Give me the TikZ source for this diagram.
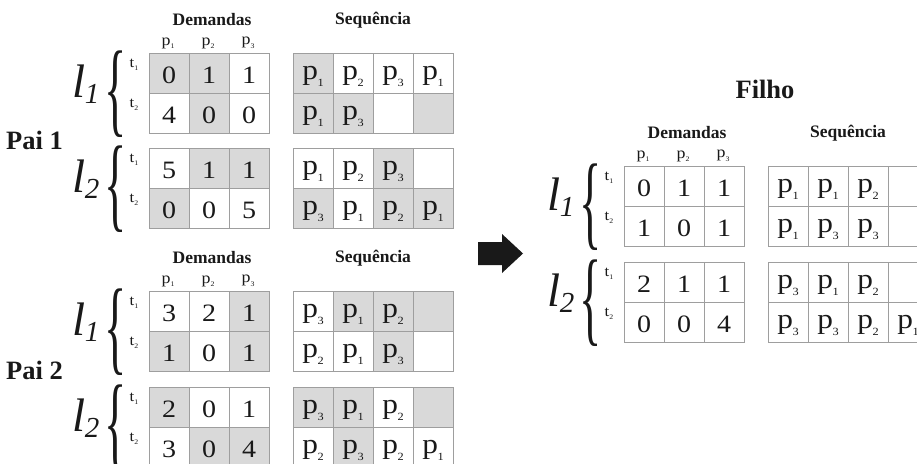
\documentclass[tikz,border=0pt]{standalone}
\usepackage{fontspec}
\setmainfont{Liberation Serif}
\newfontfamily\cellfont[FakeStretch=1.12]{Liberation Serif}

\newcommand\fsz[1]{\fontsize{#1}{#1}\selectfont}
% product symbols with a low subscript
\newcommand\pp[1]{p\kern-0.5pt\raisebox{-7pt}{\fsz{11}#1}}
\newcommand\hp[1]{p\raisebox{-3.5pt}{\fsz{7}#1}}
\newcommand\tsub[1]{t\raisebox{-3pt}{\fsz{7}#1}}
% line label l_k
\newcommand\llab[1]{{\fsz{47}\itshape l}\kern-0.5pt\raisebox{-6pt}{\fsz{29}\itshape #1}}
% tall curly brace
\newcommand\tallbrace{\scalebox{1.05}[2.38]{\fsz{44}\{}}

\colorlet{shade}{black!15}
\colorlet{gridline}{black!38}
\colorlet{ink}{black!90}

\tikzset{
  dcell/.style={draw=gridline, line width=0.9pt, minimum width=40pt,
    minimum height=40pt, inner sep=0pt, outer sep=0pt,
    text height=20.5pt, text depth=0pt, text=ink, font={\cellfont\fsz{25}}},
  scell/.style={dcell, text height=16pt, text depth=4pt, font={\cellfont\fsz{28}}},
  hd/.style={inner sep=0pt, text=ink, font={\bfseries\fsz{17.5}}},
  title/.style={inner sep=0pt, text=ink, font={\bfseries\fsz{26.5}}},
  collab/.style={inner sep=0pt, text=ink, font={\cellfont\fsz{16}}},
  tlab/.style={inner sep=0pt, text=ink, font={\cellfont\fsz{15}}},
  bracenode/.style={inner sep=0pt, text=ink},
  linelab/.style={inner sep=0pt, anchor=base west, text=ink},
}

% one row of cells: name, left x, top y, list of fill/content
\newcommand\drow[4]{%
  \foreach \f/\v [count=\i] in {#4}
    \node[dcell, fill=\f] (#1-\i) at ({#2+40*\i-20},{#3+20}) {\v};}
\newcommand\srow[4]{%
  \foreach \f/\v [count=\i] in {#4}
    \node[scell, fill=\f] (#1-\i) at ({#2+40*\i-20},{#3+20}) {\v};}

% one line block: prefix, demand x, sequence x, top y, line index,
% demand rows 1-2, sequence rows 1-2
\newcommand\lblock[9]{%
  \drow{#1d1}{#2}{#4}{#6}
  \drow{#1d2}{#2}{#4+40}{#7}
  \srow{#1s1}{#3}{#4}{#8}
  \srow{#1s2}{#3}{#4+40}{#9}
  \node[tlab] (#1t1) at ({#2-15},{#4+12}) {\tsub1};
  \node[tlab] (#1t2) at ({#2-15},{#4+52}) {\tsub2};
  \node[bracenode] (#1br) at ({#2-33},{#4+41}) {\tallbrace};
  \node[linelab] (#1l) at ({#2-77},{#4+44}) {\llab{#5}};
}

% column headings above a demand table and a sequence table
\newcommand\heads[4]{%
  \node[hd] (#1dem) at ({#2+63},{#4-33}) {Demandas};
  \node[hd] (#1seq) at ({#3+80},{#4-33}) {Sequência};
  \foreach \k in {1,2,3}
    \node[collab] (#1c\k) at ({#2+40*\k-21},{#4-10}) {\hp\k};
}

\begin{document}
\begin{tikzpicture}[x=1pt, y=-1pt]
  \clip (0,0) rectangle (917,463);
  \fill[white] (0,0) rectangle (917,463);

  % ---------- Pai 1 ----------
  \heads{a}{149}{293}{53}
  \lblock{a1}{149}{293}{53}{1}
    {shade/0, shade/1, white/1}
    {white/4, shade/0, white/0}
    {shade/\pp1, white/\pp2, white/\pp3, white/\pp1}
    {shade/\pp1, shade/\pp3, white/{}, shade/{}}
  \lblock{a2}{149}{293}{148}{2}
    {white/5, shade/1, shade/1}
    {shade/0, white/0, white/5}
    {white/\pp1, white/\pp2, shade/\pp3, white/{}}
    {shade/\pp3, white/\pp1, shade/\pp2, shade/\pp1}
  \node[title] (pai1) at (34.5,140) {Pai 1};

  % ---------- Pai 2 ----------
  \heads{b}{149}{293}{291}
  \lblock{b1}{149}{293}{291}{1}
    {white/3, white/2, shade/1}
    {shade/1, white/0, shade/1}
    {white/\pp3, shade/\pp1, shade/\pp2, shade/{}}
    {white/\pp2, white/\pp1, shade/\pp3, white/{}}
  \lblock{b2}{149}{293}{387}{2}
    {shade/2, white/0, white/1}
    {white/3, shade/0, shade/4}
    {shade/\pp3, shade/\pp1, white/\pp2, shade/{}}
    {white/\pp2, shade/\pp3, white/\pp2, white/\pp1}
  \node[title] (pai2) at (34.5,370) {Pai 2};

  % ---------- arrow ----------
  \fill[ink] (478,242) -- (502,242) -- (502,234) -- (523,253.5)
    -- (502,273) -- (502,265) -- (478,265) -- cycle;

  % ---------- Filho ----------
  \node[title] (filho) at (765,89) {Filho};
  \heads{f}{624}{768}{166}
  \lblock{f1}{624}{768}{166}{1}
    {white/0, white/1, white/1}
    {white/1, white/0, white/1}
    {white/\pp1, white/\pp1, white/\pp2, white/{}}
    {white/\pp1, white/\pp3, white/\pp3, white/{}}
  \lblock{f2}{624}{768}{262}{2}
    {white/2, white/1, white/1}
    {white/0, white/0, white/4}
    {white/\pp3, white/\pp1, white/\pp2, white/{}}
    {white/\pp3, white/\pp3, white/\pp2, white/\pp1}
\end{tikzpicture}
\end{document}
